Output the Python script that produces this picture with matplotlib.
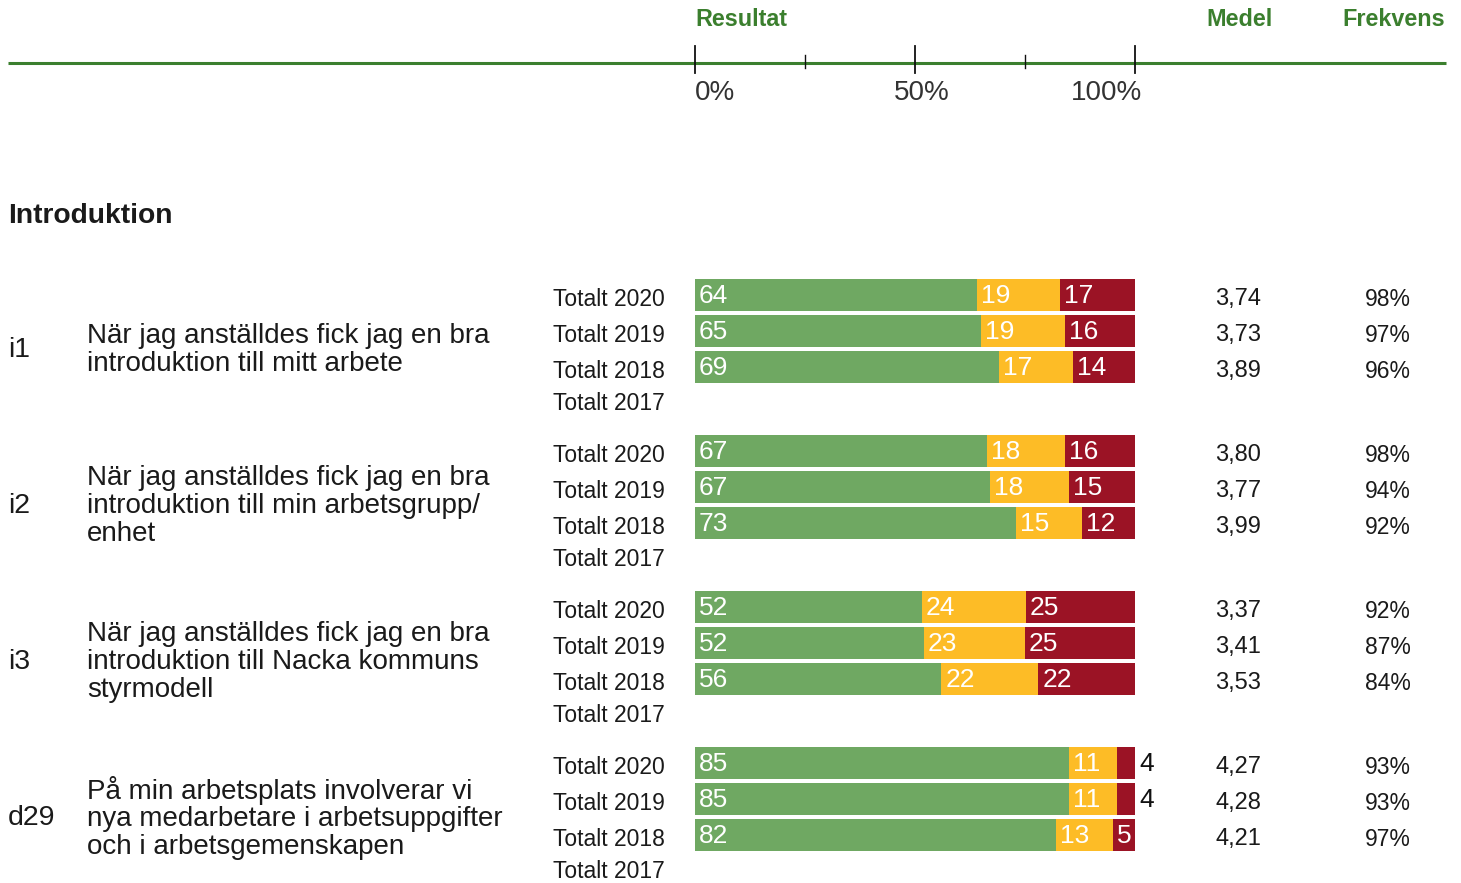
import matplotlib
matplotlib.use("Agg")
import matplotlib.pyplot as plt
import numpy as np

plt.rcParams["font.family"] = ["Liberation Sans", "DejaVu Sans"]

SECTION = "Introduktion"
CODES = ["i1", "i2", "i3", "d29"]
QUESTIONS = [
    "När jag anställdes fick jag en bra\nintroduktion till mitt arbete",
    "När jag anställdes fick jag en bra\nintroduktion till min arbetsgrupp/\nenhet",
    "När jag anställdes fick jag en bra\nintroduktion till Nacka kommuns\nstyrmodell",
    "På min arbetsplats involverar vi\nnya medarbetare i arbetsuppgifter\noch i arbetsgemenskapen",
]
YEARS = ["Totalt 2020", "Totalt 2019", "Totalt 2018", "Totalt 2017"]

# share positive / neutral / negative per question, rows 2020, 2019, 2018
POSITIVE = [[64, 65, 69], [67, 67, 73], [52, 52, 56], [85, 85, 82]]
NEUTRAL = [[19, 19, 17], [18, 18, 15], [24, 23, 22], [11, 11, 13]]
NEGATIVE = [[17, 16, 14], [16, 15, 12], [25, 25, 22], [4, 4, 5]]
MEDEL = [["3,74", "3,73", "3,89"], ["3,80", "3,77", "3,99"],
         ["3,37", "3,41", "3,53"], ["4,27", "4,28", "4,21"]]
FREKVENS = [["98%", "97%", "96%"], ["98%", "94%", "92%"],
            ["92%", "87%", "84%"], ["93%", "93%", "97%"]]

SEG_COLORS = ["#6fa862", "#fdbc26", "#9b1325"]
HEAD_GREEN = "#3b7f2e"
TXT = "#1a1a1a"

W, H = 1461, 883
fig = plt.figure(figsize=(W / 100, H / 100), dpi=100)

# text layer in pixel coordinates
tx = fig.add_axes([0, 0, 1, 1])
tx.set_xlim(0, W)
tx.set_ylim(H, 0)
tx.axis("off")

# bar layer: x in percent, y in pixels
x0, x1 = 695, 1135
bx = fig.add_axes([x0 / W, 0, (x1 - x0) / W, 1])
bx.set_xlim(0, 100)
bx.set_ylim(H, 0)
bx.axis("off")

# header
tx.text(x0, 20, "Resultat", color=HEAD_GREEN, fontsize=16.8, fontweight="bold",
        ha="left", va="center")
tx.text(1239, 20, "Medel", color=HEAD_GREEN, fontsize=16.8, fontweight="bold",
        ha="center", va="center")
tx.text(1394, 20, "Frekvens", color=HEAD_GREEN, fontsize=16.8, fontweight="bold",
        ha="center", va="center")
tx.plot([8, 1446], [63, 63], color=HEAD_GREEN, lw=2.2, solid_capstyle="butt")
for p in [0, 50, 100]:
    bx.plot([p, p], [46, 73], color="#111111", lw=1.3, clip_on=False)
for p in [25, 75]:
    bx.plot([p, p], [55, 68], color="#111111", lw=1.0, clip_on=False)
for p, lab, ha, dx in [(0, "0%", "left", 0), (50, "50%", "center", 1.6), (100, "100%", "right", 1.6)]:
    bx.text(p + dx, 93, lab, fontsize=20, color="#333333", ha=ha, va="center", clip_on=False)

tx.text(8, 216, SECTION, fontsize=20.3, fontweight="bold", color=TXT, ha="left", va="center")

first_row = 295
row_pitch = 36
group_pitch = 156
bar_h = 32

for g in range(len(CODES)):
    top = first_row + g * group_pitch
    mid = top + 1.5 * row_pitch
    tx.text(8, mid + 1, CODES[g], fontsize=20.5, color=TXT, ha="left", va="center")
    tx.text(87, mid + 1, QUESTIONS[g], fontsize=20, color=TXT, ha="left", va="center",
            linespacing=1.08)
    for r, year in enumerate(YEARS):
        y = top + r * row_pitch
        label_y = y + 4 if r < 3 else top + 108
        tx.text(665, label_y, year, fontsize=16.5, color=TXT, ha="right", va="center")
        if r >= len(POSITIVE[g]):
            continue
        vals = np.array([POSITIVE[g][r], NEUTRAL[g][r], NEGATIVE[g][r]], dtype=float)
        widths = vals * 100.0 / vals.sum()
        left = 0.0
        for v, w, c in zip(vals, widths, SEG_COLORS):
            bx.barh(y, w, left=left, height=bar_h, color=c, edgecolor="none")
            if v < 5:
                bx.text(left + w + 0.9, y + 1, f"{int(v)}", fontsize=19, color="#111111",
                        ha="left", va="center", clip_on=False)
            else:
                bx.text(left + 0.9, y + 1, f"{int(v)}", fontsize=19, color="white",
                        ha="left", va="center")
            left += w
        tx.text(1238, y + 4, MEDEL[g][r], fontsize=17, color=TXT, ha="center", va="center")
        tx.text(1388, y + 4, FREKVENS[g][r], fontsize=16.5, color=TXT, ha="center", va="center")

fig.savefig("out.png", dpi=100)
